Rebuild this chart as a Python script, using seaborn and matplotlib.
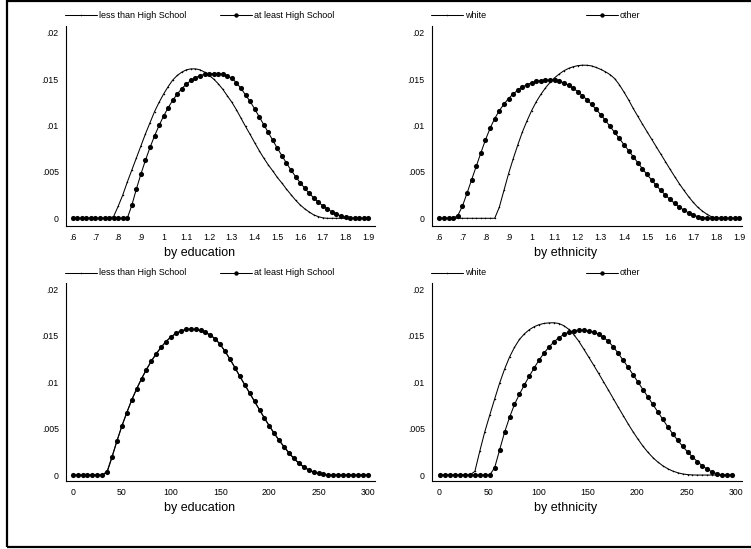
import numpy as np
import pandas as pd
import matplotlib
matplotlib.use("Agg")
import matplotlib.pyplot as plt
from matplotlib.lines import Line2D
from matplotlib.patches import Rectangle
import seaborn as sns

# ---------------------------------------------------------------- data
# evaluation grid for the ratio variable (top row)
ratio_x = [0.60, 0.62, 0.64, 0.66, 0.68, 0.70, 0.72, 0.74, 0.76, 0.78,
           0.80, 0.82, 0.84, 0.86, 0.88, 0.90, 0.92, 0.94, 0.96, 0.98,
           1.00, 1.02, 1.04, 1.06, 1.08, 1.10, 1.12, 1.14, 1.16, 1.18,
           1.20, 1.22, 1.24, 1.26, 1.28, 1.30, 1.32, 1.34, 1.36, 1.38,
           1.40, 1.42, 1.44, 1.46, 1.48, 1.50, 1.52, 1.54, 1.56, 1.58,
           1.60, 1.62, 1.64, 1.66, 1.68, 1.70, 1.72, 1.74, 1.76, 1.78,
           1.80, 1.82, 1.84, 1.86, 1.88, 1.90]

# densities in units of 1e-4
ratio_less_hs = [0, 0, 0, 0, 0, 0, 0, 0, 0, 2,
                 13, 25, 39, 52, 65, 78, 91, 103, 115, 125,
                 134, 142, 149, 154, 157.5, 160, 161, 161, 160, 157.5,
                 154, 150, 145, 139, 132, 125, 117, 108, 99, 90.5,
                 81.6, 73, 65, 57.6, 51, 44, 38, 31.5, 25.5, 19.6,
                 14.5, 10.3, 6.8, 3.7, 1.8, 0.5, 0, 0, 0, 0,
                 0, 0, 0, 0, 0, 0]
ratio_atleast_hs = [0, 0, 0, 0, 0, 0, 0, 0, 0, 0,
                    0, 0, 0, 14, 31.5, 47.7, 62.6, 76.3, 88.8, 100.1,
                    110.3, 119.2, 127.2, 134, 139.8, 144.7, 148.5, 151.5, 153.7, 155.1,
                    155.8, 156, 155.8, 155, 153.5, 151, 146, 140, 133, 126,
                    118, 109.5, 101, 92.5, 84, 75.5, 67.5, 59.5, 52, 45,
                    38.5, 32.5, 27, 22, 17.5, 13.5, 10, 7, 4.5, 2.5,
                    1, 0.2, 0, 0, 0, 0]
ratio_white = [0, 0, 0, 0, 0, 0, 0, 0, 0, 0,
               0, 0, 0, 12, 30, 48, 64, 79, 93, 105,
               116, 125.5, 133.5, 140.5, 146.5, 151.5, 155.5, 159, 161.5, 163.3,
               164.5, 165, 164.9, 164.2, 162.5, 160.4, 157.9, 154.8, 150.5, 144,
               136.1, 127.7, 118.5, 110, 101.6, 93.4, 85.3, 77.2, 69.1, 61,
               52.8, 45, 37.3, 30.2, 23.4, 17.3, 11.9, 7.8, 4.3, 1.6,
               0.2, 0, 0, 0, 0, 0]
ratio_other = [0, 0, 0, 0, 3, 13, 27, 41.5, 56, 70.5,
               84.5, 97, 107.5, 116, 123, 129, 134, 138, 141.5, 144,
               146, 147.5, 148.4, 148.9, 149, 148.7, 147.7, 146, 143.5, 140.3,
               136.5, 132.3, 127.7, 122.7, 117.3, 111.5, 105.4, 99, 92.5, 86,
               79.5, 73, 66.5, 60, 53.5, 47.3, 41.3, 35.5, 30, 25,
               20.3, 16, 12.2, 8.8, 5.9, 3.6, 1.8, 0.7, 0.1, 0,
               0, 0, 0, 0, 0, 0]

# evaluation grids for the level variable (bottom row)
level_x_edu = [0, 5, 10, 15, 20, 25, 30, 35, 40, 45,
               50, 55, 60, 65, 70, 75, 80, 85, 90, 95,
               100, 105, 110, 115, 120, 125, 130, 135, 140, 145,
               150, 155, 160, 165, 170, 175, 180, 185, 190, 195,
               200, 205, 210, 215, 220, 225, 230, 235, 240, 245,
               250, 255, 260, 265, 270, 275, 280, 285, 290, 295, 300]
level_less_hs = [0, 0, 0, 0, 0, 0, 0, 4, 20, 37,
                 53, 67.5, 81, 93, 104, 114, 123, 131, 138, 144,
                 149, 152.5, 155, 156.5, 157, 156.6, 155.4, 153.4, 150.5, 146.5,
                 140.5, 133, 124.5, 115.5, 106, 97, 88, 79, 70, 61,
                 52.5, 44.5, 37, 30, 23.5, 17.5, 12.5, 8.5, 5.3, 3,
                 1.5, 0.6, 0.1, 0, 0, 0, 0, 0, 0, 0, 0]
level_atleast_hs = [0, 0, 0, 0, 0, 0, 0, 3, 19, 36.5,
                    52.5, 67, 80.5, 92.5, 103.5, 113.5, 122.5, 130.5, 137.5, 143.8,
                    148.8, 152.5, 155.2, 156.8, 157.3, 157, 155.8, 153.8, 150.8, 146.8,
                    140.8, 133.3, 124.8, 115.8, 106.3, 97.3, 88.3, 79.3, 70.3, 61.5,
                    53, 45, 37.5, 30.5, 24, 18, 13, 9, 5.7, 3.3,
                    1.7, 0.7, 0.2, 0, 0, 0, 0, 0, 0, 0, 0]

level_x_eth = [1, 6, 11, 16, 21, 26, 31, 36, 41, 46,
               51, 56, 61, 66, 71, 76, 81, 86, 91, 96,
               101, 106, 111, 116, 121, 126, 131, 136, 141, 146,
               151, 156, 161, 166, 171, 176, 181, 186, 191, 196,
               201, 206, 211, 216, 221, 226, 231, 236, 241, 246,
               251, 256, 261, 266, 271, 276, 281, 286, 291, 296]
level_white = [0, 0, 0, 0, 0, 0, 0, 4, 26, 46.6,
               64.5, 82, 99, 114, 127, 137.5, 146, 152, 156.5, 159.8,
               162, 163.3, 163.9, 164, 163.2, 160.8, 156.9, 151.3, 144.2, 135.8,
               127.2, 118.5, 109.6, 100.6, 91.5, 82.3, 73, 64, 55, 46.5,
               38.5, 31, 24.5, 18.8, 14, 10, 6.8, 4.3, 2.5, 1.2,
               0.5, 0.1, 0, 0, 0, 0, 0, 0, 0, 0]
level_other = [0, 0, 0, 0, 0, 0, 0, 0, 0, 0,
               0, 8, 27, 46, 62, 76, 87, 97, 106.5, 115.5,
               124, 131.5, 138, 143.5, 148, 151.5, 154, 155.5, 156, 155.9,
               155.2, 153.8, 151.5, 148.3, 144, 138, 131, 123.5, 116, 108,
               100, 92, 84, 76, 68, 60, 52, 44.5, 37.5, 31,
               25, 19.5, 14.5, 10, 6.3, 3.3, 1.2, 0.2, 0, 0]

ratio_ticks = [0.6, 0.7, 0.8, 0.9, 1.0, 1.1, 1.2, 1.3, 1.4, 1.5, 1.6, 1.7, 1.8, 1.9]
ratio_tick_labels = [".6", ".7", ".8", ".9", "1", "1.1", "1.2", "1.3", "1.4",
                     "1.5", "1.6", "1.7", "1.8", "1.9"]
level_ticks = [0, 50, 100, 150, 200, 250, 300]
level_tick_labels = ["0", "50", "100", "150", "200", "250", "300"]
dens_ticks = [0, 0.005, 0.01, 0.015, 0.02]
dens_tick_labels = ["0", ".005", ".01", ".015", ".02"]

edu_labels = ["less than High School", "at least High School"]
eth_labels = ["white", "other"]
edu_title = "by education"
eth_title = "by ethnicity"

# ---------------------------------------------------------------- style
sns.set_theme(style="white")
plt.rcParams["font.family"] = ["Liberation Sans", "DejaVu Sans"]

W, H = 751, 549
fig = plt.figure(figsize=(W / 100, H / 100), dpi=100)
fig.patch.set_facecolor("white")


def fx(px):
    return px / W


def fy(py):
    return 1 - py / H


LINE_W = 0.75
BIG_MS = 3.7
SMALL_MS = 1.1


def panel(left, right, top, bottom, xlim, ylim, xs, ya, yb,
          xticks, xtick_labels, labels, title):
    ax = fig.add_axes([fx(left), fy(bottom), fx(right - left), (bottom - top) / H])
    frame = pd.DataFrame({"x": xs, "a": np.asarray(ya) / 1e4, "b": np.asarray(yb) / 1e4})
    sns.lineplot(data=frame, x="x", y="a", ax=ax, color="black", linewidth=LINE_W,
                 marker="o", markersize=SMALL_MS, markeredgewidth=0, legend=False)
    sns.lineplot(data=frame, x="x", y="b", ax=ax, color="black", linewidth=LINE_W,
                 marker="o", markersize=BIG_MS, markeredgewidth=0, legend=False)
    ax.set_xlim(*xlim)
    ax.set_ylim(*ylim)
    ax.set_xticks(xticks)
    ax.set_xticklabels(xtick_labels)
    ax.set_yticks(dens_ticks)
    ax.set_yticklabels(dens_tick_labels)
    ax.set_xlabel("")
    ax.set_ylabel("")
    for s in ("top", "right"):
        ax.spines[s].set_visible(False)
    for s in ("left", "bottom"):
        ax.spines[s].set_color("black")
        ax.spines[s].set_linewidth(0.8)
    ax.tick_params(axis="both", direction="out", length=3, width=0.7,
                   labelsize=6.3, pad=2, colors="black")
    ax.patch.set_alpha(0)

    # legend row above the plot region
    ly = top - 10.7
    for i, lab in enumerate(labels):
        x0 = left - 0.7 + 155 * i
        ms = SMALL_MS if i == 0 else BIG_MS * 0.85
        key = Line2D([fx(x0), fx(x0 + 16), fx(x0 + 32)], [fy(ly)] * 3,
                     transform=fig.transFigure, color="black", linewidth=LINE_W,
                     marker="o", markersize=ms, markeredgewidth=0, markevery=[1])
        fig.add_artist(key)
        fig.text(fx(x0 + 34), fy(ly), lab, fontsize=6.5, ha="left", va="center",
                 color="black")
    # axis title under the tick labels
    fig.text(fx(left + 134), fy(bottom + 27.3), title, fontsize=9,
             ha="center", va="center", color="black")
    return ax


top_ylim = (-0.00083, 0.02072)
bot_ylim = (-0.00061, 0.02065)

panel(65.7, 375.0, 26.0, 226.0, (0.5692, 1.9295), top_ylim,
      ratio_x, ratio_less_hs, ratio_atleast_hs,
      ratio_ticks, ratio_tick_labels, edu_labels, edu_title)
panel(431.7, 741.7, 26.0, 226.0, (0.567, 1.9104), top_ylim,
      ratio_x, ratio_white, ratio_other,
      ratio_ticks, ratio_tick_labels, eth_labels, eth_title)
panel(65.7, 375.0, 283.3, 480.7, (-7.12, 307.4), bot_ylim,
      level_x_edu, level_less_hs, level_atleast_hs,
      level_ticks, level_tick_labels, edu_labels, edu_title)
panel(431.7, 741.7, 283.3, 480.7, (-7.68, 305.8), bot_ylim,
      level_x_eth, level_white, level_other,
      level_ticks, level_tick_labels, eth_labels, eth_title)

# outer frame around the combined graph (right side runs off the canvas)
fig.add_artist(Rectangle((fx(7.2), fy(547.3)), fx(770 - 7.2), (547.3 - 0.5) / H,
                         transform=fig.transFigure, fill=False,
                         edgecolor="black", linewidth=1.6))

fig.savefig("out.png", dpi=100, facecolor="white")
